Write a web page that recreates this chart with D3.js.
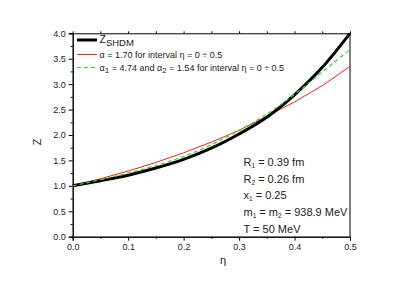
<!DOCTYPE html>
<html>
<head>
<meta charset="utf-8">
<script src="https://cdn.jsdelivr.net/npm/d3@7"></script>
<style>
  body { margin: 0; background: #fff; }
  svg { display: block; font-family: "Liberation Sans", Arial, sans-serif; }
</style>
</head>
<body>
<svg width="407" height="284"></svg>
<script>
// eta grid and the three Z curves
var eta = [0, 0.05, 0.10, 0.15, 0.20, 0.25, 0.30, 0.35, 0.40, 0.45, 0.50];
var zShdm = [1.00, 1.10, 1.21, 1.35, 1.52, 1.74, 2.02, 2.35, 2.79, 3.33, 4.00];
var zAlpha = [1.00, 1.14, 1.29, 1.46, 1.65, 1.86, 2.09, 2.37, 2.65, 2.97, 3.35];
var zAlpha12 = [1.00, 1.12, 1.25, 1.40, 1.58, 1.81, 2.09, 2.41, 2.80, 3.24, 3.68];

var xTicks = [0, 0.1, 0.2, 0.3, 0.4, 0.5];
var yTicks = [0, 0.5, 1, 1.5, 2, 2.5, 3, 3.5, 4];
var notes = [
  ["R", "1", " = 0.39 fm"],
  ["R", "2", " = 0.26 fm"],
  ["x", "1", " = 0.25"],
  ["m", "1", " = m", "2", " = 938.9 MeV"],
  ["T = 50 MeV"]
];

var svg = d3.select("svg");
var pL = 72.7, pR = 350, pT = 33.3, pB = 236.7;

var x = d3.scaleLinear().domain([0, 0.5]).range([pL, pR]);
var y = d3.scaleLinear().domain([0, 4]).range([pB, pT]);

function styleAxis(g) {
  g.selectAll("path.domain").attr("stroke", "#000").attr("stroke-width", 1);
  g.selectAll("line").attr("stroke", "#000");
  g.selectAll("text").attr("font-size", 9).attr("fill", "#222");
}

// minor ticks
svg.append("g").attr("transform", "translate(0," + pB + ")")
    .call(d3.axisBottom(x).tickValues(d3.range(0.05, 0.5, 0.1)).tickSize(2).tickFormat(""))
    .call(styleAxis);
svg.append("g").attr("transform", "translate(" + pL + ",0)")
    .call(d3.axisLeft(y).tickValues(d3.range(0.25, 4, 0.5)).tickSize(2).tickFormat(""))
    .call(styleAxis);
svg.append("g").attr("transform", "translate(0," + pT + ")")
    .call(d3.axisTop(x).tickValues(d3.range(0.05, 0.5, 0.05)).tickSize(2).tickFormat(""))
    .call(styleAxis);

// major axes
svg.append("g").attr("transform", "translate(0," + pB + ")")
    .call(d3.axisBottom(x).tickValues(xTicks).tickSize(4).tickPadding(3).tickFormat(d3.format(".1f")))
    .call(styleAxis);
svg.append("g").attr("transform", "translate(" + pL + ",0)")
    .call(d3.axisLeft(y).tickValues(yTicks).tickSize(4).tickPadding(3).tickFormat(d3.format(".1f")))
    .call(styleAxis);

// right frame edge
svg.append("line")
    .attr("x1", pR).attr("x2", pR).attr("y1", pT).attr("y2", pB)
    .attr("stroke", "#000");

// curves
var line = d3.line()
    .x(function(d) { return x(d[0]); })
    .y(function(d) { return y(d[1]); });

svg.append("path")
    .datum(d3.zip(eta, zAlpha))
    .attr("fill", "none").attr("stroke", "#ff1a1a").attr("stroke-width", 1)
    .attr("d", line.curve(d3.curveLinear));
svg.append("path")
    .datum(d3.zip(eta, zShdm))
    .attr("fill", "none").attr("stroke", "#000").attr("stroke-width", 3)
    .attr("d", line.curve(d3.curveMonotoneX));
svg.append("path")
    .datum(d3.zip(eta, zAlpha12))
    .attr("fill", "none").attr("stroke", "#22dd22").attr("stroke-width", 1.2)
    .attr("stroke-dasharray", "4,3")
    .attr("d", line.curve(d3.curveMonotoneX));

// legend
var legend = svg.append("g");
var lx = 77, lw = 20;
legend.append("line").attr("x1", lx).attr("x2", lx + lw).attr("y1", 40).attr("y2", 40)
    .attr("stroke", "#000").attr("stroke-width", 3);
legend.append("line").attr("x1", lx).attr("x2", lx + lw).attr("y1", 54.5).attr("y2", 54.5)
    .attr("stroke", "#ff1a1a").attr("stroke-width", 1);
legend.append("line").attr("x1", lx).attr("x2", lx + lw).attr("y1", 67.5).attr("y2", 67.5)
    .attr("stroke", "#22dd22").attr("stroke-width", 1.2).attr("stroke-dasharray", "4,3");

var t1 = legend.append("text").attr("x", 99.5).attr("y", 42.5).attr("font-size", 10.5).attr("fill", "#222");
t1.append("tspan").text("Z");
t1.append("tspan").attr("dy", 3.5).attr("font-size", 9.5).text("SHDM");

legend.append("text").attr("x", 99.5).attr("y", 58).attr("font-size", 9).attr("fill", "#222")
    .text("\u03b1 = 1.70 for interval \u03b7 = 0 \u00f7 0.5");

var t3 = legend.append("text").attr("x", 99.5).attr("y", 70.5).attr("font-size", 9).attr("fill", "#222");
t3.append("tspan").text("\u03b1");
t3.append("tspan").attr("dy", 2.5).attr("font-size", 8).text("1");
t3.append("tspan").attr("dy", -2.5).text(" = 4.74 and \u03b1");
t3.append("tspan").attr("dy", 2.5).attr("font-size", 8).text("2");
t3.append("tspan").attr("dy", -2.5).text(" = 1.54 for interval \u03b7 = 0 \u00f7 0.5");

// parameter notes
notes.forEach(function(parts, i) {
  var t = svg.append("text").attr("x", 243.5).attr("y", 166 + i * 16.7)
      .attr("font-size", 11).attr("fill", "#222");
  parts.forEach(function(p, j) {
    var sub = (j % 2 === 1);
    t.append("tspan")
        .attr("dy", sub ? 2 : (j > 0 ? -2 : 0))
        .attr("font-size", sub ? 6.5 : 11)
        .text(p);
  });
});

// axis titles
svg.append("text").attr("x", 223).attr("y", 264).attr("text-anchor", "middle")
    .attr("font-size", 11).attr("fill", "#222").text("\u03b7");
svg.append("text").attr("transform", "translate(41,142) rotate(-90)").attr("text-anchor", "middle")
    .attr("font-size", 11).attr("fill", "#222").text("Z");
</script>
</body>
</html>
